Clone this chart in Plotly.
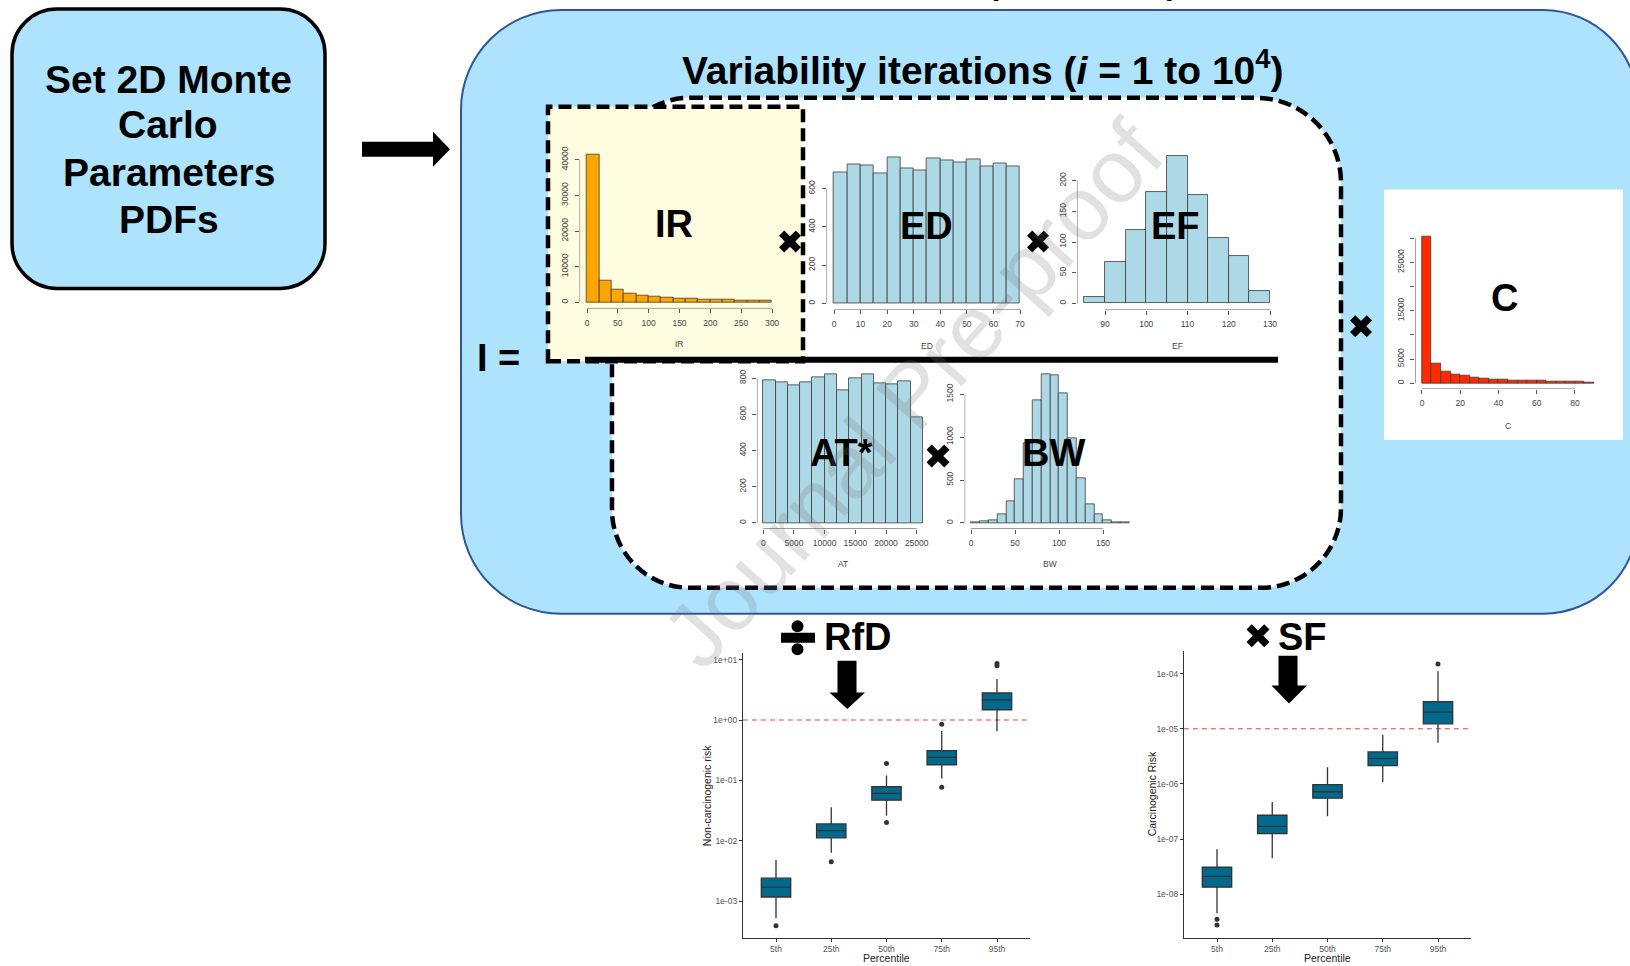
import plotly.graph_objects as go

W, H = 1630, 966
FONT = "Liberation Sans, Arial, sans-serif"

# ---------------- data ----------------
ir_breaks = [0, 20, 40, 60, 80, 100, 120, 140, 160, 180, 200, 220, 240, 260, 280, 300]
ir_counts = [41400, 6070, 3550, 2520, 1960, 1590, 1300, 1030, 930, 840, 750, 650, 560, 500, 470]
ir_xticks = [0, 50, 100, 150, 200, 250, 300]
ir_yticks = [0, 10000, 20000, 30000, 40000]

ed_breaks = [0, 5, 10, 15, 20, 25, 30, 35, 40, 45, 50, 55, 60, 65, 70]
ed_counts = [687, 727, 721, 680, 765, 708, 697, 756, 747, 737, 752, 716, 732, 714]
ed_xticks = [0, 10, 20, 30, 40, 50, 60, 70]
ed_yticks = [0, 200, 400, 600]

ef_breaks = [85, 90, 95, 100, 105, 110, 115, 120, 125, 130]
ef_counts = [11, 68, 119, 181, 240, 176, 107, 78, 21]
ef_xticks = [90, 100, 110, 120, 130]
ef_yticks = [0, 50, 100, 150, 200]

at_breaks = [0, 2000, 4000, 6000, 8000, 10000, 12000, 14000, 16000, 18000, 20000, 22000, 24000, 26000]
at_counts = [790, 775, 762, 778, 805, 822, 732, 802, 822, 773, 768, 783, 583]
at_xticks = [0, 5000, 10000, 15000, 20000, 25000]
at_yticks = [0, 200, 400, 600, 800]

bw_breaks = [0, 10, 20, 30, 40, 50, 60, 70, 80, 90, 100, 110, 120, 130, 140, 150, 160, 170, 180]
bw_counts = [4, 16, 27, 97, 249, 514, 930, 1434, 1733, 1722, 1508, 990, 526, 222, 101, 27, 12, 4]
bw_xticks = [0, 50, 100, 150]
bw_yticks = [0, 500, 1000, 1500]

c_breaks = [0, 5, 10, 15, 20, 25, 30, 35, 40, 45, 50, 55, 60, 65, 70, 75, 80, 85, 90]
c_counts = [30360, 4050, 2400, 1850, 1510, 1170, 960, 820, 755, 620, 550, 480, 480, 410, 340, 340, 275, 206]
c_xticks = [0, 20, 40, 60, 80]
c_yticks = [0, 5000, 10000, 15000, 20000, 25000, 30000]
c_yticklabels = ["0", "5000", "", "15000", "", "25000", ""]

pct_cats = ["5th", "25th", "50th", "75th", "95th"]

nc_lower = [5.2e-4, 6.3e-3, 0.026, 0.107, 0.65]
nc_q1 = [1.17e-3, 1.12e-2, 0.047, 0.18, 1.48]
nc_median = [1.7e-3, 1.47e-2, 0.061, 0.24, 2.15]
nc_q3 = [2.4e-3, 1.9e-2, 0.079, 0.31, 2.8]
nc_upper = [4.8e-3, 3.6e-2, 0.12, 0.66, 4.8]
nc_out_cat = ["5th", "25th", "50th", "50th", "75th", "75th", "95th", "95th"]
nc_out_val = [3.9e-4, 4.5e-3, 0.19, 0.020, 0.85, 0.077, 7.9, 8.6]
nc_threshold = 1.0
nc_yticks = [1e-3, 1e-2, 1e-1, 1e0, 1e1]
nc_yticklabels = ["1e-03", "1e-02", "1e-01", "1e+00", "1e+01"]

cr_lower = [4.5e-9, 4.5e-8, 2.6e-7, 1.07e-6, 5.6e-6]
cr_q1 = [1.34e-8, 1.25e-7, 5.5e-7, 2.15e-6, 1.23e-5]
cr_median = [2.1e-8, 1.7e-7, 7.2e-7, 2.9e-6, 2.0e-5]
cr_q3 = [3.1e-8, 2.7e-7, 9.7e-7, 3.8e-6, 3.1e-5]
cr_upper = [6.5e-8, 4.7e-7, 2.0e-6, 7.8e-6, 1.1e-4]
cr_out_cat = ["5th", "5th", "95th"]
cr_out_val = [3.5e-9, 2.75e-9, 1.5e-4]
cr_threshold = 1e-5
cr_yticks = [1e-8, 1e-7, 1e-6, 1e-5, 1e-4]
cr_yticklabels = ["1e-08", "1e-07", "1e-06", "1e-05", "1e-04"]

# ---------------- helpers (layout in pixels -> paper) ----------------
def X(px):
    return px / W

def Y(py):
    return 1 - py / H

def pt(px, py):
    return f"{X(px):.6f},{Y(py):.6f}"

def xdom(cal, rng):
    (v0, p0), (v1, p1) = cal
    s = (p1 - p0) / (v1 - v0)
    return [(p0 + (rng[0] - v0) * s) / W, (p0 + (rng[1] - v0) * s) / W]

def ydom(cal, rng):
    (v0, p0), (v1, p1) = cal
    s = (p1 - p0) / (v1 - v0)
    pb = p0 + (rng[0] - v0) * s
    ptop = p0 + (rng[1] - v0) * s
    return [1 - pb / H, 1 - ptop / H]

def rrect(x0, y0, x1, y1, rtl, rtr, rbr, rbl):
    k = 0.5523
    p = "M " + pt(x0 + rtl, y0)
    p += " L " + pt(x1 - rtr, y0)
    p += " C " + pt(x1 - rtr + k * rtr, y0) + " " + pt(x1, y0 + rtr - k * rtr) + " " + pt(x1, y0 + rtr)
    p += " L " + pt(x1, y1 - rbr)
    p += " C " + pt(x1, y1 - rbr + k * rbr) + " " + pt(x1 - rbr + k * rbr, y1) + " " + pt(x1 - rbr, y1)
    p += " L " + pt(x0 + rbl, y1)
    p += " C " + pt(x0 + rbl - k * rbl, y1) + " " + pt(x0, y1 - rbl + k * rbl) + " " + pt(x0, y1 - rbl)
    p += " L " + pt(x0, y0 + rtl)
    p += " C " + pt(x0, y0 + rtl - k * rtl) + " " + pt(x0 + rtl - k * rtl, y0) + " " + pt(x0 + rtl, y0)
    return p + " Z"

def poly(points):
    return "M " + " L ".join(pt(a, b) for a, b in points) + " Z"

def xmark(cx, cy, half, t):
    s = 0.70710678
    L = half / s - t
    out = []
    for d in [(s, s), (s, -s)]:
        n = (-d[1], d[0])
        pts = [(cx + a * L * d[0] + b * t * n[0], cy + a * L * d[1] + b * t * n[1])
               for a, b in [(1, 1), (1, -1), (-1, -1), (-1, 1)]]
        out.append(dict(type="path", path=poly(pts), xref="paper", yref="paper",
                        fillcolor="black", line=dict(width=0), layer="above"))
    return out

def axname(i):
    return ("x", "y") if i == 1 else (f"x{i}", f"y{i}")

# ---------------- figure ----------------
fig = go.Figure()
layout_axes = {}
annotations = []

hists = [
    dict(name="IR", br=ir_breaks, ct=ir_counts, col="#FFA500", xt=ir_xticks, yt=ir_yticks, ytt=None,
         xcal=((0, 587), (300, 772)), xr=[-12, 312], ycal=((0, 301), (40000, 158)), yr=[-1700, 43100], lab_py=343),
    dict(name="ED", br=ed_breaks, ct=ed_counts, col="#ADD8E6", xt=ed_xticks, yt=ed_yticks, ytt=None,
         xcal=((0, 834), (70, 1020)), xr=[-2.8, 72.8], ycal=((0, 302), (600, 187)), yr=[-32, 800], lab_py=345),
    dict(name="EF", br=ef_breaks, ct=ef_counts, col="#ADD8E6", xt=ef_xticks, yt=ef_yticks, ytt=None,
         xcal=((90, 1105), (130, 1270)), xr=[83.2, 131.8], ycal=((0, 302), (200, 179)), yr=[-10, 250], lab_py=345),
    dict(name="AT", br=at_breaks, ct=at_counts, col="#ADD8E6", xt=at_xticks, yt=at_yticks, ytt=None,
         xcal=((0, 763.3), (25000, 916.7)), xr=[-1040, 27040], ycal=((0, 522), (800, 377)), yr=[-33, 855], lab_py=563),
    dict(name="BW", br=bw_breaks, ct=bw_counts, col="#ADD8E6", xt=bw_xticks, yt=bw_yticks, ytt=None,
         xcal=((0, 971), (150, 1103)), xr=[-7.2, 187.2], ycal=((0, 522), (1500, 393)), yr=[-70, 1802], lab_py=563),
    dict(name="C", br=c_breaks, ct=c_counts, col="#FF2A00", xt=c_xticks, yt=c_yticks, ytt=c_yticklabels,
         xcal=((0, 1422), (80, 1575)), xr=[-3.6, 93.6], ycal=((0, 382), (25000, 261)), yr=[-1214, 31600], lab_py=425),
]

tickfont_h = dict(family=FONT, size=8.5, color="#444444")
for i, h in enumerate(hists, start=1):
    xa, ya = axname(i)
    centers = [(a + b) / 2 for a, b in zip(h["br"][:-1], h["br"][1:])]
    widths = [b - a for a, b in zip(h["br"][:-1], h["br"][1:])]
    fig.add_trace(go.Bar(x=centers, y=h["ct"], width=widths, xaxis=xa, yaxis=ya,
                         marker=dict(color=h["col"], line=dict(color="#3c3c3c", width=0.8)),
                         showlegend=False, hoverinfo="skip"))
    # R-style axis lines spanning first to last tick
    fig.add_trace(go.Scatter(x=[h["xt"][0], h["xt"][-1]], y=[h["yr"][0], h["yr"][0]], mode="lines",
                             line=dict(color="#555555", width=1), cliponaxis=False,
                             xaxis=xa, yaxis=ya, showlegend=False, hoverinfo="skip"))
    fig.add_trace(go.Scatter(x=[h["xr"][0], h["xr"][0]], y=[h["yt"][0], h["yt"][-1]], mode="lines",
                             line=dict(color="#555555", width=1), cliponaxis=False,
                             xaxis=xa, yaxis=ya, showlegend=False, hoverinfo="skip"))
    key = "" if i == 1 else str(i)
    layout_axes["xaxis" + key] = dict(domain=xdom(h["xcal"], h["xr"]), range=h["xr"], tickvals=h["xt"],
                                      tickformat="d", exponentformat="none",
                                      ticks="outside", ticklen=4, tickwidth=1, tickcolor="#555555",
                                      showline=False, showgrid=False, zeroline=False, tickfont=tickfont_h,
                                      anchor=ya, ticklabelstandoff=2, fixedrange=True)
    yax = dict(domain=ydom(h["ycal"], h["yr"]), range=h["yr"], tickvals=h["yt"], tickangle=-90,
               tickformat="d", exponentformat="none",
               ticks="outside", ticklen=4, tickwidth=1, tickcolor="#555555",
               showline=False, showgrid=False, zeroline=False, tickfont=tickfont_h,
               anchor=xa, ticklabelstandoff=3, fixedrange=True)
    if h["ytt"] is not None:
        yax["ticktext"] = h["ytt"]
    layout_axes["yaxis" + key] = yax
    annotations.append(dict(text=h["name"], xref=f"{xa} domain", x=0.5, yref="paper", y=Y(h["lab_py"]),
                            xanchor="center", yanchor="middle", showarrow=False,
                            font=dict(family=FONT, size=8.5, color="#444444")))

# ---------------- box plots ----------------
boxes = [
    dict(lo=nc_lower, q1=nc_q1, med=nc_median, q3=nc_q3, up=nc_upper, oc=nc_out_cat, ov=nc_out_val,
         thr=nc_threshold, yt=nc_yticks, ytt=nc_yticklabels, ytitle="Non-carcinogenic risk", ytitle_px=707,
         xcal=((0, 776), (4, 997)), ycal=((-3, 901), (1, 659)), yr=[-3.612, 1.116]),
    dict(lo=cr_lower, q1=cr_q1, med=cr_median, q3=cr_q3, up=cr_upper, oc=cr_out_cat, ov=cr_out_val,
         thr=cr_threshold, yt=cr_yticks, ytt=cr_yticklabels, ytitle="Carcinogenic Risk", ytitle_px=1152,
         xcal=((0, 1217), (4, 1438)), ycal=((-8, 894), (-4, 673)), yr=[-8.796, -3.584]),
]
box_shapes = []
for j, b in enumerate(boxes, start=7):
    xa, ya = axname(j)
    xr = [-0.6, 4.6]
    fig.add_trace(go.Box(x=pct_cats, q1=b["q1"], median=b["med"], q3=b["q3"],
                         lowerfence=b["lo"], upperfence=b["up"], boxpoints=False, whiskerwidth=0,
                         fillcolor="#00698C", line=dict(color="#333333", width=1.3),
                         xaxis=xa, yaxis=ya, showlegend=False, hoverinfo="skip"))
    fig.add_trace(go.Scatter(x=b["oc"], y=b["ov"], mode="markers",
                             marker=dict(color="#333333", size=5), xaxis=xa, yaxis=ya,
                             showlegend=False, hoverinfo="skip"))
    tf = dict(family=FONT, size=8.5, color="#555555")
    layout_axes[f"xaxis{j}"] = dict(domain=xdom(b["xcal"], xr), range=xr, type="category",
                                    categoryorder="array", categoryarray=pct_cats,
                                    showline=True, linecolor="#333333", linewidth=1, ticks="outside",
                                    ticklen=3, tickcolor="#333333", tickfont=tf, showgrid=False,
                                    zeroline=False, anchor=ya, fixedrange=True)
    layout_axes[f"yaxis{j}"] = dict(domain=ydom(b["ycal"], b["yr"]), range=b["yr"], type="log",
                                    tickvals=b["yt"], ticktext=b["ytt"],
                                    showline=True, linecolor="#333333", linewidth=1, ticks="outside",
                                    ticklen=3, tickcolor="#333333", tickfont=tf, showgrid=False,
                                    zeroline=False, anchor=xa, fixedrange=True)
    box_shapes.append(dict(type="line", xref=f"{xa} domain", x0=0, x1=1, yref=ya, y0=b["thr"], y1=b["thr"],
                           line=dict(color="#F03C3C", width=1.2, dash="5px,4px"), layer="below"))
    annotations.append(dict(text="Percentile", xref=f"{xa} domain", x=0.5, yref="paper", y=Y(958),
                            xanchor="center", yanchor="middle", showarrow=False,
                            font=dict(family=FONT, size=10.5, color="#222222")))
    annotations.append(dict(text=b["ytitle"], xref="paper", x=X(b["ytitle_px"]), yref=f"{ya} domain", y=0.5,
                            xanchor="center", yanchor="middle", showarrow=False, textangle=-90,
                            font=dict(family=FONT, size=10.5, color="#222222")))

# ---------------- diagram shapes ----------------
BLUE = "#AEE3FE"
dash = "13px,6px"
shapes = [
    dict(type="path", path=rrect(461, 8, 1638, 613, 100, 95, 95, 100), xref="paper", yref="paper",
         fillcolor=BLUE, line=dict(color="#2F5597", width=2), layer="below"),
    dict(type="path", path=rrect(12, 7, 325, 287, 45, 45, 45, 45), xref="paper", yref="paper",
         fillcolor=BLUE, line=dict(color="black", width=3.5), layer="below"),
    dict(type="path", path=rrect(612, 96, 1341, 587, 78, 85, 80, 78), xref="paper", yref="paper",
         fillcolor="white", line=dict(color="black", width=4.5, dash=dash), layer="below"),
    dict(type="rect", x0=X(548), x1=X(803), y0=Y(360), y1=Y(105), xref="paper", yref="paper",
         fillcolor="#FFFDE0", line=dict(color="black", width=4.5, dash=dash), layer="below"),
    dict(type="rect", x0=X(1384), x1=X(1623), y0=Y(439), y1=Y(188), xref="paper", yref="paper",
         fillcolor="white", line=dict(width=0), layer="below"),
] + box_shapes

# arrows
shapes.append(dict(type="path", xref="paper", yref="paper", fillcolor="black", line=dict(width=0), layer="above",
                   path=poly([(362, 140), (433, 140), (433, 130), (450, 147.5), (433, 165), (433, 155), (362, 155)])))
shapes.append(dict(type="path", xref="paper", yref="paper", fillcolor="black", line=dict(width=0), layer="above",
                   path=poly([(837.5, 660), (856.5, 660), (856.5, 692), (865, 692), (847.3, 708.5),
                              (829.5, 692), (837.5, 692)])))
shapes.append(dict(type="path", xref="paper", yref="paper", fillcolor="black", line=dict(width=0), layer="above",
                   path=poly([(1278.5, 655), (1297.5, 655), (1297.5, 685), (1307, 685), (1289, 703),
                              (1271.5, 685), (1278.5, 685)])))
# fraction bar
shapes.append(dict(type="line", xref="paper", yref="paper", x0=X(585), x1=X(1278), y0=Y(358.5), y1=Y(358.5),
                   line=dict(color="black", width=6), layer="above"))
# multiplication signs
for cx, cy, hf in [(790, 240, 11), (1038, 240, 11), (938, 455, 11.5), (1361, 325, 11), (1258, 635, 11.5)]:
    shapes += xmark(cx, cy, hf, 3.7)
# division sign
shapes.append(dict(type="rect", xref="paper", yref="paper", x0=X(781), x1=X(815), y0=Y(642), y1=Y(632),
                   fillcolor="black", line=dict(width=0), layer="above"))
for cy in (625.5, 648.5):
    shapes.append(dict(type="circle", xref="paper", yref="paper", x0=X(791.5), x1=X(803.5),
                       y0=Y(cy + 6), y1=Y(cy - 6), fillcolor="black", line=dict(width=0), layer="above"))

# ---------------- texts ----------------
def big(text, px, py, size=38, **kw):
    d = dict(text=text, xref="paper", yref="paper", x=X(px), y=Y(py), xanchor="center", yanchor="middle",
             showarrow=False, font=dict(family=FONT, size=size, color="black"))
    d.update(kw)
    return d

TOP_PY = -21
annotations += [
    big("<b>Set 2D Monte</b>", 168, 77.5, 39),
    big("<b>Carlo</b>", 168, 122.5, 39),
    big("<b>Parameters</b>", 169, 171, 39),
    big("<b>PDFs</b>", 169, 217.5, 39),
    big("<b>Variability iterations (<i>i</i> = 1 to 10<sup>4</sup>)</b>", 983, 66, 39),
    # outer title, cut off by the top edge in the original: only descenders show
    dict(text="<b>Uncertainty</b>", xref="paper", yref="paper", x=X(759), y=Y(TOP_PY),
         xanchor="right", yanchor="middle", showarrow=False, font=dict(family=FONT, size=33, color="black")),
    dict(text="<b>iterations (<i>k</i> = 1 to 10<sup>3</sup>)</b>", xref="paper", yref="paper", x=X(833),
         y=Y(TOP_PY), xanchor="left", yanchor="middle", showarrow=False,
         font=dict(family=FONT, size=32, color="black")),
    big("<b>IR</b>", 673.5, 222),
    big("<b>ED</b>", 926.5, 224),
    big("<b>EF</b>", 1175, 224),
    big("<b>AT*</b>", 841, 452),
    big("<b>BW</b>", 1053, 452),
    big("<b>C</b>", 1504, 296.5),
    big("<b>I =</b>", 498.5, 357),
    big("<b>RfD</b>", 858, 636.5),
    big("<b>SF</b>", 1302.5, 636),
    big("Journal Pre-proof", 913, 393, 90, textangle=-48,
        font=dict(family=FONT, size=90, color="rgba(120,120,120,0.22)")),
]

fig.update_layout(
    width=W, height=H, margin=dict(l=0, r=0, t=0, b=0),
    paper_bgcolor="white", plot_bgcolor="rgba(0,0,0,0)",
    showlegend=False, boxgap=0.24, bargap=0,
    shapes=shapes, annotations=annotations,
    **layout_axes,
)

fig.write_html("out.html")
